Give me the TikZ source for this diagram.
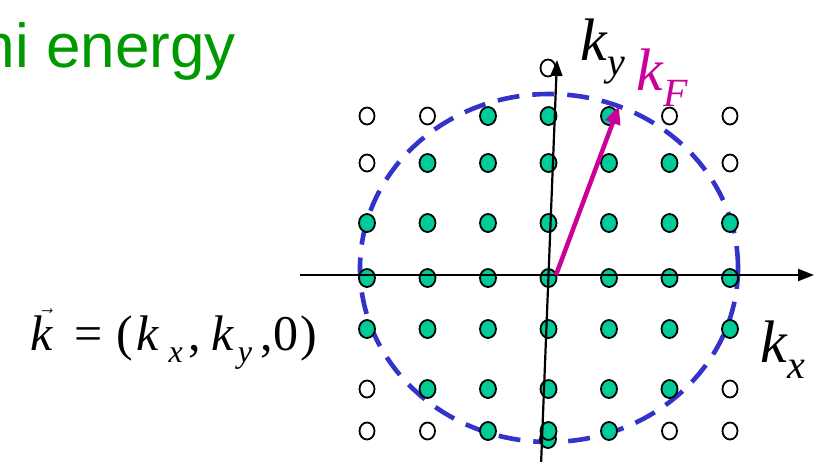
\documentclass[tikz,border=0pt]{standalone}
\usepackage{fontspec}
\setmainfont{Liberation Serif}
\newfontfamily\sansfam{Liberation Sans}
\usetikzlibrary{shapes.geometric,arrows.meta}

\definecolor{fsgreen}{RGB}{0,153,0}
\definecolor{dotgreen}{RGB}{0,204,153}
\definecolor{fsblue}{RGB}{51,51,204}
\definecolor{kfmag}{RGB}{204,0,153}

% k with an italic subscript (labels)
\newcommand{\ksub}[3]{\textit{k}\raisebox{#2}{\fontsize{#3}{#3}\selectfont\itshape #1}}
% lowered subscript (equation)
\newcommand{\lsub}[1]{\raisebox{-12pt}{\fontsize{32}{32}\selectfont\itshape #1}}

\begin{document}
\begin{tikzpicture}[
    x=1pt, y=-1pt,
    occ/.style  ={ellipse, draw, line width=1.8pt, fill=dotgreen, inner sep=0pt,
                  minimum width=16pt, minimum height=18pt},
    emp/.style  ={occ, fill=white, minimum width=15pt, minimum height=17pt},
    fermi/.style={ellipse, draw=fsblue, line width=4.6pt, dash pattern=on 22pt off 13pt,
                  inner sep=0pt, minimum width=378pt, minimum height=348pt},
    axis/.style ={line width=2.2pt, -{Triangle[length=16pt,width=12pt]}},
    kfarr/.style={draw=kfmag, line width=4.5pt, -{Triangle[length=18pt,width=15pt]}},
    lab/.style  ={inner sep=0pt, font=\fontsize{60}{60}\selectfont},
  ]
  \clip (0,0) rectangle (827,461);

  % --- title (cut at the left edge) ---
  \node[inner sep=0pt, anchor=base east, text=fsgreen,
        font=\sansfam\fontsize{62}{62}\selectfont] (title) at (236,67) {Fermi energy};

  % --- Fermi surface ---
  \node[fermi] (fs) at (549,268) {};

  % --- k states ---
  \node[occ] (k-8-4) at (548,439) {};
  \node[emp] (k-0-4) at (548,68) {};
  \foreach \y/\lo/\hi [count=\r] in {116/3/5,163/2/6,223/1/7,278/1/7,329/1/7,389/2/6,431/3/5}
    \foreach \i in {1,...,7}{
      \ifnum\i<\lo \def\st{emp}\else\ifnum\i>\hi \def\st{emp}\else\def\st{occ}\fi\fi
      \node[\st] (k-\r-\i) at ({367+(\i-1)*60.5},\y) {};
    }

  % --- axes ---
  \coordinate (xl) at (300,275);
  \coordinate (xr) at (814,275);
  \coordinate (yb) at (541,465);
  \coordinate (yt) at (557,60);
  \draw[axis] (xl) -- (xr);
  \draw[axis] (yb) -- (yt);

  % --- Fermi wave vector ---
  \coordinate (O) at (556,275);
  \coordinate (kftip) at (619,106);
  \draw[kfarr] (O) -- (kftip);

  % --- labels ---
  \node[lab, anchor=base west] (ky) at (580,60) {\ksub{y}{-0.25em}{40}};
  \node[lab, anchor=base west, text=kfmag] (kf) at (636,90) {\ksub{F}{-0.28em}{40}};
  \node[lab, anchor=base west] (kx) at (760,362) {\ksub{x}{-0.28em}{40}};
  \node[inner sep=0pt, anchor=base west, font=\fontsize{50}{50}\selectfont] (keq) at (30,350)
    {$\skew{6}\vec{\mbox{\itshape k}}$\hspace{22pt}=\hspace{13.5pt}(\hspace{4pt}\textit{k}\hspace{9pt}\lsub{x}\hspace{6pt},\hspace{10.5pt}\textit{k}\hspace{3pt}\lsub{y}\hspace{9pt},0\hspace{2.5pt})};
\end{tikzpicture}
\end{document}
